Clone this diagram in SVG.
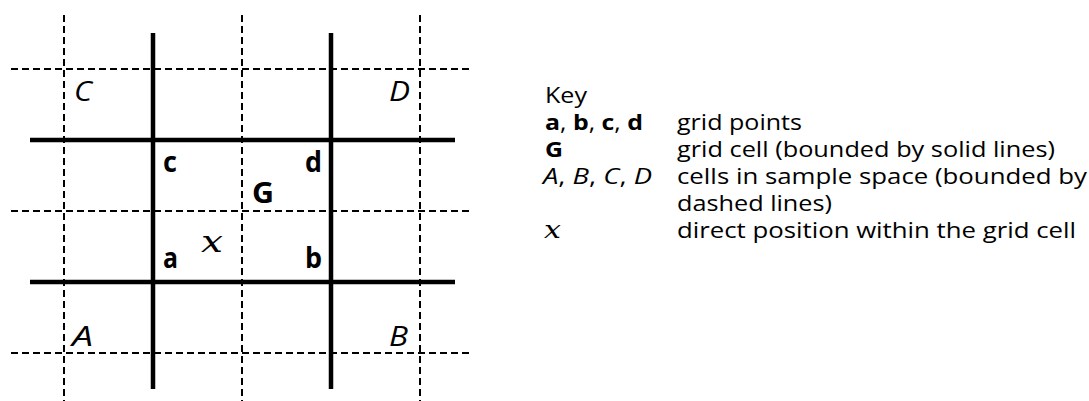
<svg xmlns="http://www.w3.org/2000/svg" width="1089" height="401" viewBox="0 0 1089 401">
<style>
.dash{stroke:#000;stroke-width:2;stroke-dasharray:7 4;fill:none}
.solid{stroke:#000;stroke-width:4.5;fill:none}
.lbl{font-family:"Open Sans","Liberation Sans",sans-serif;font-size:28px;fill:#000}
.it{font-style:italic}
.bd{font-weight:bold}
.nb{font-weight:normal}
.math{font-family:"DejaVu Serif","Liberation Serif",serif;font-style:italic;fill:#000}
.key{font-family:"Open Sans","Liberation Sans",sans-serif;font-size:22px;fill:#000}
</style>
<rect width="1089" height="401" fill="#fff"/>
<g id="connectors">
<line class="dash" x1="64" y1="15" x2="64" y2="401"/>
<line class="dash" x1="242" y1="15" x2="242" y2="401"/>
<line class="dash" x1="420" y1="15" x2="420" y2="401"/>
<line class="dash" x1="11" y1="69" x2="470" y2="69"/>
<line class="dash" x1="11" y1="211" x2="470" y2="211"/>
<line class="dash" x1="11" y1="353" x2="470" y2="353"/>
<line class="solid" x1="153" y1="33" x2="153" y2="389"/>
<line class="solid" x1="331" y1="33" x2="331" y2="389"/>
<line class="solid" x1="30" y1="140" x2="455" y2="140"/>
<line class="solid" x1="30" y1="282" x2="455" y2="282"/>
</g>
<g id="cellC"><text class="lbl it" x="74" y="101" textLength="18" lengthAdjust="spacingAndGlyphs">C</text></g>
<g id="cellD"><text class="lbl it" x="389" y="101" textLength="21" lengthAdjust="spacingAndGlyphs">D</text></g>
<g id="cellA"><text class="lbl it" x="72" y="346" textLength="21" lengthAdjust="spacingAndGlyphs">A</text></g>
<g id="cellB"><text class="lbl it" x="389" y="346" textLength="19" lengthAdjust="spacingAndGlyphs">B</text></g>
<g id="pointC"><text class="lbl bd" x="163" y="172" textLength="14" lengthAdjust="spacingAndGlyphs">c</text></g>
<g id="pointD"><text class="lbl bd" x="305" y="172" textLength="17" lengthAdjust="spacingAndGlyphs">d</text></g>
<g id="pointA"><text class="lbl bd" x="163" y="268" textLength="15" lengthAdjust="spacingAndGlyphs">a</text></g>
<g id="pointB"><text class="lbl bd" x="305" y="268" textLength="17" lengthAdjust="spacingAndGlyphs">b</text></g>
<g id="cellG"><text class="lbl bd" x="252" y="203" textLength="22" lengthAdjust="spacingAndGlyphs">G</text></g>
<g id="posX"><text class="math" x="201" y="252" font-size="30" textLength="22" lengthAdjust="spacingAndGlyphs">x</text></g>
<g id="key">
<text class="key" x="545" y="103" textLength="42" lengthAdjust="spacingAndGlyphs">Key</text>
<text class="key bd" x="545" y="130" textLength="98" lengthAdjust="spacingAndGlyphs">a<tspan class="nb">, </tspan>b<tspan class="nb">, </tspan>c<tspan class="nb">, </tspan>d</text>
<text class="key" x="677" y="130" textLength="125" lengthAdjust="spacingAndGlyphs">grid points</text>
<text class="key bd" x="545" y="157" textLength="18" lengthAdjust="spacingAndGlyphs">G</text>
<text class="key" x="677" y="157" textLength="378" lengthAdjust="spacingAndGlyphs">grid cell (bounded by solid lines)</text>
<text class="key" x="543" y="184" textLength="109" lengthAdjust="spacingAndGlyphs"><tspan class="it">A</tspan>, <tspan class="it">B</tspan>, <tspan class="it">C</tspan>, <tspan class="it">D</tspan></text>
<text class="key" x="677" y="184" textLength="410" lengthAdjust="spacingAndGlyphs">cells in sample space (bounded by</text>
<text class="key" x="677" y="211" textLength="155" lengthAdjust="spacingAndGlyphs">dashed lines)</text>
<text class="math" x="544" y="238" font-size="24" textLength="17" lengthAdjust="spacingAndGlyphs">x</text>
<text class="key" x="677" y="238" textLength="399" lengthAdjust="spacingAndGlyphs">direct position within the grid cell</text>
</g>
</svg>
